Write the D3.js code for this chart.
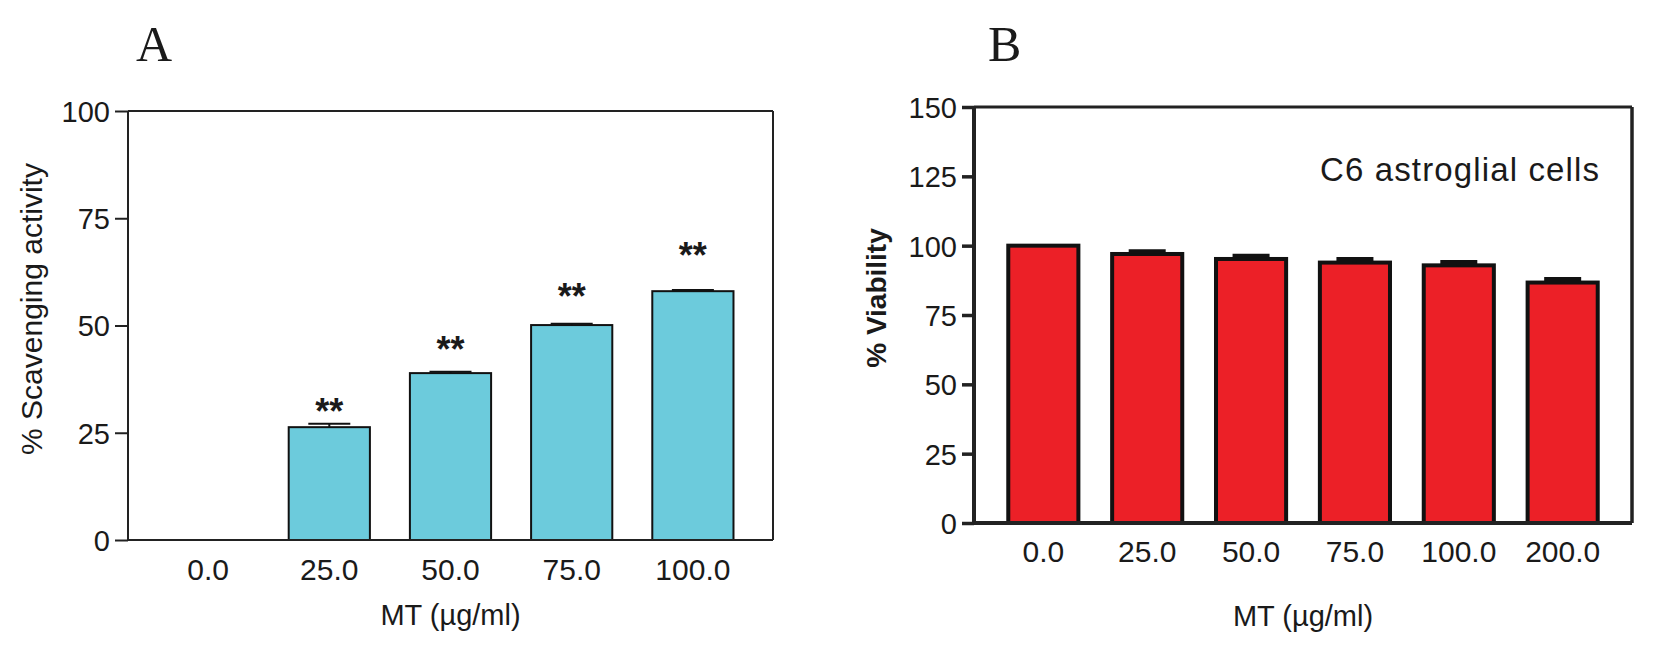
<!DOCTYPE html>
<html lang="en">
<head>
<meta charset="utf-8">
<title>MT scavenging activity and C6 viability</title>
<script src="https://cdn.jsdelivr.net/npm/d3@7/dist/d3.min.js"></script>
<style>
  body { margin: 0; background: #fff; }
  svg text { font-family: "Liberation Sans", Arial, sans-serif; fill: #1a1a1a; }
  .panel-letter { font-family: "Liberation Serif", "Times New Roman", serif; }
</style>
</head>
<body>
<svg id="chart" width="1654" height="650"></svg>
<script>
/**panel A data: DPPH scavenging activity*/
var doseA = ["0.0", "25.0", "50.0", "75.0", "100.0"];
var scavenging = [0, 26.3, 38.9, 50.1, 58.0];
var scavengingErr = [0, 0.8, 0.3, 0.3, 0.3];
var starsA = ["", "**", "**", "**", "**"];
var starLevelA = [0, 31.7, 46.2, 58.5, 68.1];
var ticksA = [0, 25, 50, 75, 100];

/**panel B data: viability of C6 astroglial cells*/
var doseB = ["0.0", "25.0", "50.0", "75.0", "100.0", "200.0"];
var viability = [100, 97.0, 95.2, 93.9, 92.9, 86.7];
var viabilityErr = [0, 1.0, 1.2, 1.3, 1.2, 1.3];
var ticksB = [0, 25, 50, 75, 100, 125, 150];

var svg = d3.select("#chart");

/**draws one bar panel*/
function panel(opt) {
    var x = d3.scaleBand().domain(opt.cats).range([opt.left, opt.right])
        .paddingInner(opt.padIn).paddingOuter(opt.padOut);
    var y = d3.scaleLinear().domain([0, opt.ticks[opt.ticks.length - 1]])
        .range([opt.bottom, opt.top]);
    var g = svg.append("g");

    /**bars*/
    g.selectAll(".bar")
     .data(opt.values)
     .enter().append("rect")
     .filter(function(d) { return d > 0; })
     .attr("x", function(d) { return x(opt.cats[opt.values.indexOf(d)]); })
     .attr("y", function(d) { return y(d); })
     .attr("width", x.bandwidth())
     .attr("height", function(d) { return y(0) - y(d); })
     .attr("fill", opt.fill)
     .attr("stroke", "#111")
     .attr("stroke-width", opt.barStroke);

    /**error bars (upper only)*/
    opt.values.forEach(function(v, i) {
        if (opt.err[i] <= 0) return;
        var cx = x(opt.cats[i]) + x.bandwidth() / 2;
        g.append("line").attr("x1", cx).attr("x2", cx)
         .attr("y1", y(v)).attr("y2", y(v + opt.err[i]))
         .attr("stroke", "#111").attr("stroke-width", opt.capStroke);
        g.append("line").attr("x1", cx - opt.capW / 2).attr("x2", cx + opt.capW / 2)
         .attr("y1", y(v + opt.err[i])).attr("y2", y(v + opt.err[i]))
         .attr("stroke", "#111").attr("stroke-width", opt.capStroke);
    });

    /**frame*/
    var f = opt.frame;
    g.append("line").attr("x1", opt.left).attr("x2", opt.right).attr("y1", opt.top).attr("y2", opt.top)
     .attr("stroke", "#222").attr("stroke-width", f[0]);
    g.append("line").attr("x1", opt.right).attr("x2", opt.right).attr("y1", opt.top).attr("y2", opt.bottom)
     .attr("stroke", "#222").attr("stroke-width", f[1]);
    g.append("line").attr("x1", opt.left).attr("x2", opt.right).attr("y1", opt.bottom).attr("y2", opt.bottom)
     .attr("stroke", "#222").attr("stroke-width", f[2]);
    g.append("line").attr("x1", opt.left).attr("x2", opt.left).attr("y1", opt.top).attr("y2", opt.bottom)
     .attr("stroke", "#222").attr("stroke-width", f[3]);

    /**y axis*/
    var ya = g.append("g").attr("transform", "translate(" + opt.left + ",0)")
     .call(d3.axisLeft(y).tickValues(opt.ticks).tickSize(opt.tickLen).tickPadding(5));
    ya.select(".domain").remove();
    ya.selectAll("line").attr("stroke", "#222").attr("stroke-width", opt.tickStroke);
    ya.selectAll("text").attr("font-size", 29).attr("fill", "#1a1a1a").attr("dy", "0.36em");

    /**x axis labels*/
    var xa = g.append("g").attr("transform", "translate(0," + opt.bottom + ")")
     .call(d3.axisBottom(x).tickSize(0).tickPadding(opt.xPad));
    xa.select(".domain").remove();
    xa.selectAll("text").attr("font-size", 30).attr("fill", "#1a1a1a");

    /**axis titles*/
    g.append("text")
     .attr("x", (opt.left + opt.right) / 2).attr("y", opt.xTitleY)
     .attr("text-anchor", "middle").attr("font-size", 29)
     .text("MT (\u00b5g/ml)");
    g.append("text")
     .attr("transform", "translate(" + opt.yTitleX + "," + opt.yTitleY + ") rotate(-90)")
     .attr("text-anchor", "middle").attr("font-size", opt.yTitleSize)
     .attr("font-weight", opt.yTitleWeight)
     .text(opt.yTitle);

    /**panel letter*/
    g.append("text").attr("class", "panel-letter")
     .attr("x", opt.letterX).attr("y", 61)
     .attr("font-size", 50)
     .text(opt.letter);

    return { x: x, y: y, g: g };
}

var A = panel({
    cats: doseA, values: scavenging, err: scavengingErr, ticks: ticksA,
    left: 128, right: 773, top: 111, bottom: 540,
    padIn: 0.33, padOut: 0.326, fill: "#6ccbdc", barStroke: 2,
    capW: 42, capStroke: 2, frame: [2, 2, 2, 2], tickLen: 13, tickStroke: 2,
    xPad: 19, xTitleY: 625, yTitleX: 42, yTitleY: 309, yTitleSize: 30,
    yTitleWeight: "normal", yTitle: "% Scavenging activity",
    letter: "A", letterX: 136
});

/**significance stars*/
A.g.selectAll(".star")
 .data(starsA)
 .enter().append("text")
 .attr("x", function(d, i) { return A.x(doseA[i]) + A.x.bandwidth() / 2; })
 .attr("y", function(d, i) { return A.y(starLevelA[i]) + 20; })
 .attr("text-anchor", "middle")
 .attr("font-size", 36)
 .attr("font-weight", "bold")
 .text(function(d) { return d; });

var B = panel({
    cats: doseB, values: viability, err: viabilityErr, ticks: ticksB,
    left: 974, right: 1632, top: 107, bottom: 523,
    padIn: 0.325, padOut: 0.33, fill: "#ec2027", barStroke: 4,
    capW: 37, capStroke: 4, frame: [3, 3.5, 4, 4], tickLen: 12, tickStroke: 3.5,
    xPad: 18, xTitleY: 626, yTitleX: 886, yTitleY: 298, yTitleSize: 28,
    yTitleWeight: "bold", yTitle: "% Viability",
    letter: "B", letterX: 988
});

/**cell line note*/
B.g.append("text")
 .attr("x", 1599).attr("y", 181)
 .attr("text-anchor", "end")
 .attr("font-size", 33)
 .attr("textLength", 279)
 .text("C6 astroglial cells");
</script>
</body>
</html>
